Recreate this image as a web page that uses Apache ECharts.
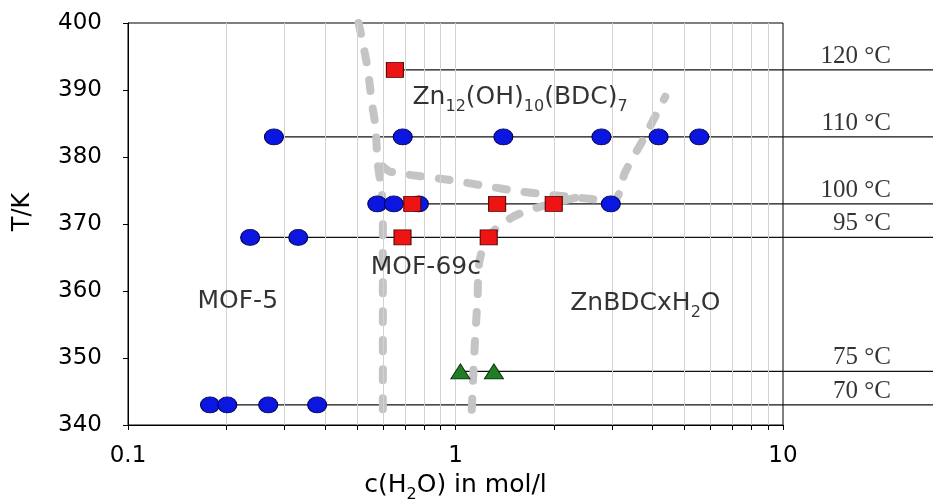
<!DOCTYPE html>
<html>
<head>
<meta charset="utf-8">
<title>MOF phase diagram</title>
<script src="https://cdn.jsdelivr.net/npm/echarts@6.0.0/dist/echarts.min.js"></script>
<style>
    html, body { margin: 0; padding: 0; background: #fff; }
    #chart { width: 933px; height: 502px; }
</style>
</head>
<body>
<div id="chart"></div>
<script>
// synthesis rows: temperature in °C and T/K
const rowTempC = [120, 110, 100, 95, 75, 70];
const rowTempK = [393, 383, 373, 368, 348, 343];

// experiments, [c(H2O) mol/l, T/K]
const circlePts = [
    [0.279, 383], [0.69, 383], [1.40, 383], [2.79, 383], [4.17, 383], [5.55, 383],
    [0.577, 373], [0.648, 373], [0.773, 373], [2.98, 373],
    [0.236, 368], [0.331, 368],
    [0.178, 343], [0.201, 343], [0.268, 343], [0.378, 343]
];
const squarePts = [
    [0.653, 393],
    [0.738, 373], [1.34, 373], [1.995, 373],
    [0.689, 368], [1.263, 368]
];
const trianglePts = [[1.035, 348], [1.31, 348]];

// phase boundaries (grey dashes)
const boundaryMof5 = [
    [0.506, 400], [0.539, 393.3], [0.554, 388.5], [0.570, 384.4], [0.578, 379.3],
    [0.591, 375.9], [0.600, 372.2], [0.600, 356], [0.600, 340]
];
const boundaryZn12 = [
    [0.600, 378.6], [0.634, 377.8], [0.952, 376.6], [1.226, 375.7], [1.61, 374.8],
    [2.19, 374.1], [3.03, 373.5], [3.30, 377.8], [3.74, 382.6], [4.37, 389.0]
];
const boundaryMof69 = [
    [2.32, 373.9], [1.82, 372.6], [1.49, 371.0], [1.26, 368.1], [1.183, 364.4],
    [1.167, 358.7], [1.143, 351.3], [1.119, 341.5]
];

const xLabelVals = [0.1, 1, 10];
const xTickVals = [0.1, 0.2, 0.3, 0.4, 0.5, 0.6, 0.7, 0.8, 0.9, 1, 2, 3, 4, 5, 6, 7, 8, 9, 10];
const xGridVals = [0.2, 0.3, 0.4, 0.5, 0.6, 0.7, 0.8, 0.9, 1, 2, 3, 4, 5, 6, 7, 8, 9];

const W = 933;
const sans = 'DejaVu Sans';
const serif = 'Liberation Serif';
const subRich = {
    m: { fontFamily: sans, fontSize: 25, lineHeight: 26, verticalAlign: 'top', color: '#000' },
    s: { fontFamily: sans, fontSize: 16, lineHeight: 16, verticalAlign: 'top', padding: [14, 0, 0, 0], color: '#000' }
};

let chart = echarts.init(document.getElementById('chart'));

function markerSeries(name, pts, symbol, size, fill, border) {
    return {
        name: name,
        type: 'scatter',
        symbol: symbol,
        symbolSize: size,
        z: 5,
        itemStyle: { color: fill, borderColor: border, borderWidth: 1, opacity: 1 },
        data: pts
    };
}

function boundarySeries(pts) {
    return {
        type: 'line',
        data: pts,
        smooth: 0.3,
        symbol: 'none',
        z: 4,
        lineStyle: { color: '#c4c4c4', width: 8, type: [11, 18], cap: 'round' }
    };
}

let option = {
    animation: false,
    backgroundColor: '#fff',
    grid: [
        { left: 128, right: 150, top: 23, bottom: 77, outerBoundsMode: 'none', containLabel: false,
          show: true, borderColor: '#000', borderWidth: 1 },
        // same height, runs to the right edge: carries the temperature rows
        { left: 128, right: 0, top: 23, bottom: 77, outerBoundsMode: 'none', containLabel: false }
    ],
    xAxis: [{
        type: 'log',
        logBase: 10,
        min: 0.1,
        max: 10,
        name: '{m|c(H}{s|2}{m|O) in mol/l}',
        nameLocation: 'middle',
        nameGap: 41,
        nameTextStyle: { rich: subRich },
        axisLine: { lineStyle: { color: '#000', width: 1 } },
        axisTick: { show: true, length: 5, customValues: xTickVals, lineStyle: { color: '#000' } },
        axisLabel: {
            customValues: xLabelVals,
            margin: 20,
            fontFamily: sans, fontSize: 23, color: '#000',
            formatter: function (v) { return String(v); }
        },
        splitLine: { show: false },
        minorTick: { show: false }
    }],
    yAxis: [{
        type: 'value',
        min: 340,
        max: 400,
        interval: 10,
        name: 'T/K',
        nameLocation: 'middle',
        nameGap: 93,
        nameTextStyle: { fontFamily: sans, fontSize: 24, color: '#000', padding: [0, 0, 0, 24] },
        axisLine: { show: true, lineStyle: { color: '#000', width: 1 } },
        axisTick: { show: true, length: 5, lineStyle: { color: '#000' } },
        axisLabel: { margin: 26, fontFamily: sans, fontSize: 23, color: '#000' },
        splitLine: { show: false }
    }],
    series: [
        {
            // minor grid lines of the log axis
            type: 'line',
            data: [],
            z: 1,
            markLine: {
                silent: true,
                symbol: 'none',
                label: { show: false },
                lineStyle: { color: '#d2d2d2', width: 1, type: 'solid' },
                data: xGridVals.map(function (v) { return { xAxis: v }; })
            }
        },
        boundarySeries(boundaryMof5),
        boundarySeries(boundaryZn12),
        boundarySeries(boundaryMof69),
        markerSeries('circle', circlePts, 'circle', [19, 16], '#0b16e0', '#000050'),
        markerSeries('square', squarePts, 'rect', [17, 15], '#ee1414', '#500000'),
        markerSeries('triangle', trianglePts, 'triangle', [19, 15], '#1f7d24', '#0a300a'),
        {
            // phase names
            type: 'scatter',
            symbolSize: 0,
            clip: false,
            z: 6,
            label: {
                show: true,
                position: 'right',
                distance: 0,
                formatter: '{b}',
                rich: subRich
            },
            data: [
                { name: '{m|Zn}{s|12}{m|(OH)}{s|10}{m|(BDC)}{s|7}', value: [0.739, 388.8] },
                { name: '{m|MOF-5}', value: [0.163, 358.3] },
                { name: '{m|MOF-69c}', value: [0.551, 363.4] },
                { name: '{m|ZnBDCxH}{s|2}{m|O}', value: [2.24, 358.1] }
            ]
        }
    ]
};

chart.setOption(option);

// log value at the right edge of the picture, from the main axis' own pixel scale
const p0 = chart.convertToPixel({ xAxisIndex: 0 }, 0.1);
const p1 = chart.convertToPixel({ xAxisIndex: 0 }, 10);
const xEdge = Math.pow(10, -1 + 2 * (W - p0) / (p1 - p0));
const xLabel = Math.pow(10, -1 + 2 * (891 - p0) / (p1 - p0));

option.xAxis.push({ type: 'log', logBase: 10, min: 0.1, max: xEdge, gridIndex: 1, show: false });
option.yAxis.push({ type: 'value', min: 340, max: 400, gridIndex: 1, show: false });

const allPts = circlePts.concat(squarePts, trianglePts);

rowTempK.forEach(function (k) {
    let xs = allPts.filter(function (p) { return p[1] === k; }).map(function (p) { return p[0]; });
    option.series.push({
        type: 'line',
        xAxisIndex: 1,
        yAxisIndex: 1,
        data: [[Math.min.apply(null, xs), k], [xEdge, k]],
        symbol: 'none',
        z: 3,
        lineStyle: { color: '#111', width: 1.3 }
    });
});

option.series.push({
    type: 'scatter',
    xAxisIndex: 1,
    yAxisIndex: 1,
    symbolSize: 0,
    clip: false,
    z: 6,
    label: {
        show: true,
        position: 'top',
        align: 'right',
        distance: 1,
        formatter: '{b}',
        fontFamily: serif,
        fontSize: 25,
        color: '#000'
    },
    data: rowTempK.map(function (k, i) {
        return { name: rowTempC[i] + ' °C', value: [xLabel, k] };
    })
});

chart.setOption(option);
</script>
</body>
</html>
